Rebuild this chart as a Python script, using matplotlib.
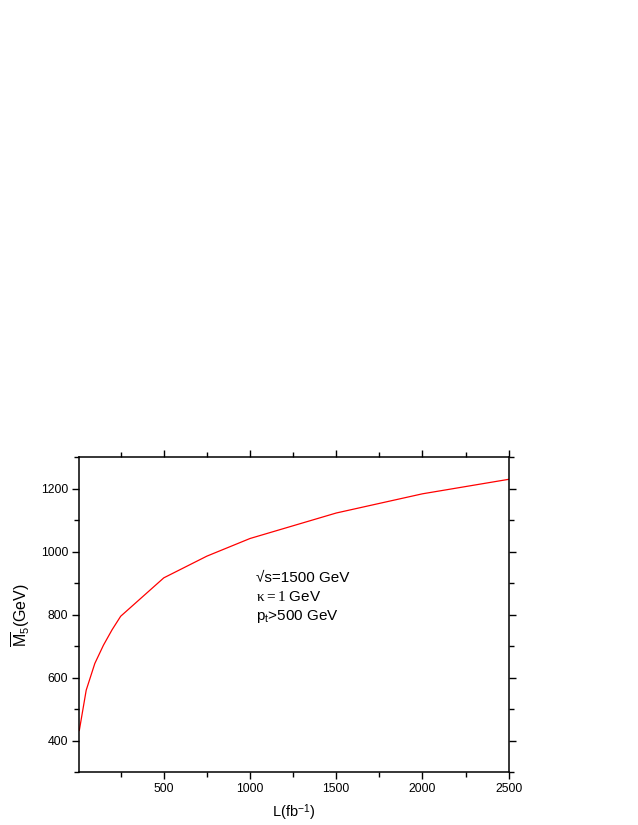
import matplotlib
matplotlib.use('Agg')
import matplotlib.pyplot as plt
from matplotlib.ticker import MultipleLocator

plt.rcParams['font.family'] = ['Liberation Sans', 'DejaVu Sans']
plt.rcParams['mathtext.fontset'] = 'custom'
plt.rcParams['mathtext.rm'] = 'Liberation Serif'
plt.rcParams['mathtext.it'] = 'Liberation Serif'
plt.rcParams['mathtext.sf'] = 'Liberation Sans'

# luminosity (fb^-1) and bound on M5 (GeV)
lum = [10, 50, 100, 150, 200, 250, 500, 750, 1000, 1500, 2000, 2500]
m5 = [432, 560, 645, 703, 752, 795, 917, 986, 1042, 1123, 1184, 1230]

fig = plt.figure(figsize=(6.38, 8.25), dpi=100)
ax = fig.add_axes([0.1243, 0.0642, 0.673, 0.3815])

ax.plot(lum, m5, color='red', lw=0.9)

ax.set_xlim(10, 2500)
ax.set_ylim(300, 1300)
ax.xaxis.set_major_locator(MultipleLocator(500))
ax.xaxis.set_minor_locator(MultipleLocator(250))
ax.yaxis.set_major_locator(MultipleLocator(200))
ax.yaxis.set_minor_locator(MultipleLocator(100))

ax.tick_params(which='both', direction='out', top=True, right=True,
               labelsize=8.8, width=1.0, pad=3)
ax.tick_params(which='major', length=5)
ax.tick_params(which='minor', length=3.3)
for s in ax.spines.values():
    s.set_linewidth(1.1)

ax.set_xlabel(r'L(fb$^{\mathsf{-1}}$)', fontsize=10.5, labelpad=5)
ax.set_ylabel(r'$\overline{\mathsf{M}}_{\mathsf{5}}$(GeV)', fontsize=11.5, labelpad=6)

ax.text(0.411, 0.616, '√s=1500 GeV', transform=ax.transAxes, fontsize=11, va='center')
ax.text(0.411, 0.555, r'$\kappa{=}\mathrm{1}$ GeV', transform=ax.transAxes, fontsize=11, va='center')
ax.text(0.411, 0.494, r'p$_{\mathsf{t}}$>500 GeV', transform=ax.transAxes, fontsize=11, va='center')

fig.savefig('out.png', dpi=100)
